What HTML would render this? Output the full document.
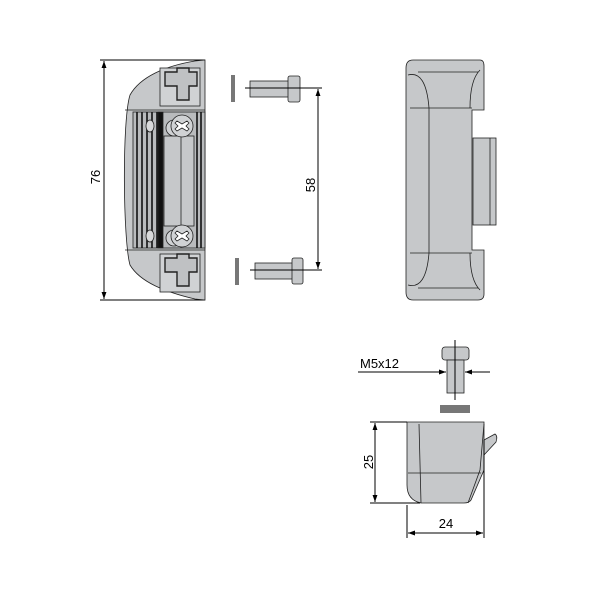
<!DOCTYPE html>
<html><head><style>body{margin:0;background:#fff}svg{display:block}</style></head><body>
<svg width="600" height="600" viewBox="0 0 600 600" xmlns="http://www.w3.org/2000/svg" font-family="Liberation Sans, sans-serif">
<defs>
<marker id="a" viewBox="0 0 10 10" refX="10" refY="5" markerWidth="7" markerHeight="7" orient="auto-start-reverse"><path d="M0,1.5 L10,5 L0,8.5 z" fill="#000"/></marker>
</defs>
<g stroke="#000" stroke-width="1" fill="none">
<line x1="100" y1="60" x2="205" y2="60"/><line x1="100" y1="300" x2="205" y2="300"/>
<line x1="104" y1="61" x2="104" y2="299" marker-start="url(#a)" marker-end="url(#a)"/>
</g>
<text x="100" y="177" font-size="13" transform="rotate(-90 100 177)" text-anchor="middle">76</text>

<g stroke="#222" stroke-width="0.8">
<path d="M205,60 L205,300 L195,299 C165,292 140,282 130,265 C123,240 122,120 130,95 C140,77 165,66 195,61 Z" fill="#c6c8ca"/>
<path d="M125,110 L205,110 M125,250 L205,250" fill="none"/>
<rect x="160" y="68" width="40" height="38" fill="#d0d2d4"/>
<path d="M165,72 h12 v-4 h12 v4 h8 v14 h-8 v14 h-12 v-14 h-12z" fill="#bfc1c3" stroke-width="1.4"/>
<rect x="160" y="254" width="40" height="38" fill="#d0d2d4"/>
<path d="M165,258 h12 v-4 h12 v4 h8 v14 h-8 v14 h-12 v-14 h-12z" fill="#bfc1c3" stroke-width="1.4"/>
<rect x="133" y="112" width="72" height="136" fill="#b9bbbd"/>
<g stroke="#111" stroke-width="1.6">
<line x1="137" y1="112" x2="137" y2="248"/><line x1="142" y1="112" x2="142" y2="248"/>
<line x1="147" y1="112" x2="147" y2="248"/><line x1="152" y1="112" x2="152" y2="248"/>
<line x1="157" y1="112" x2="157" y2="248"/><line x1="162" y1="112" x2="162" y2="248"/>
<line x1="197" y1="112" x2="197" y2="248"/><line x1="201" y1="112" x2="201" y2="248"/>
</g>
<rect x="158" y="112" width="5" height="136" fill="#111"/>
<rect x="164" y="136" width="30" height="90" fill="#c6c8ca"/>
<line x1="181" y1="115" x2="181" y2="248"/>
<ellipse cx="150" cy="126" rx="4" ry="6" fill="#d8d9da"/>
<ellipse cx="150" cy="236" rx="4" ry="6" fill="#d8d9da"/>
<circle cx="174" cy="128" r="8" fill="#d0d2d4"/>
<circle cx="182" cy="126" r="11" fill="#d0d2d4"/>
<path d="M177,121 l5,3 5,-3 2,2 -3,3 3,3 -2,2 -5,-3 -5,3 -2,-2 3,-3 -3,-3z" fill="#fff"/>
<circle cx="174" cy="238" r="8" fill="#d0d2d4"/><circle cx="182" cy="236" r="11" fill="#d0d2d4"/>
<path d="M177,231 l5,3 5,-3 2,2 -3,3 3,3 -2,2 -5,-3 -5,3 -2,-2 3,-3 -3,-3z" fill="#fff"/>
</g>

<g stroke="#222" stroke-width="0.8" fill="#c6c8ca">
<rect x="231" y="75" width="4" height="27" fill="#777" stroke="none"/>
<rect x="250" y="81" width="39" height="16"/><rect x="288" y="76" width="12" height="26" rx="2"/>
<rect x="235" y="258" width="4" height="27" fill="#777" stroke="none"/>
<rect x="255" y="263" width="38" height="16"/><rect x="292" y="258" width="11" height="26" rx="2"/>
</g>
<g stroke="#000" stroke-width="1" fill="none">
<line x1="245" y1="88" x2="322" y2="88"/><line x1="250" y1="270" x2="322" y2="270"/>
<line x1="318" y1="89" x2="318" y2="269" marker-start="url(#a)" marker-end="url(#a)"/>
</g>
<text x="315" y="185" font-size="13" transform="rotate(-90 315 185)" text-anchor="middle">58</text>

<g stroke="#222" stroke-width="0.8">
<rect x="473" y="138" width="23" height="87" fill="#c6c8ca"/>
<line x1="490" y1="138" x2="490" y2="225"/>
<path d="M413,60 L480,60 Q484,60 484,66 L484,110 L472,110 L472,250 L484,250 L484,294 Q484,300 478,300 L413,300 Q406,300 406,292 L406,68 Q406,60 413,60Z" fill="#c6c8ca"/>
<path d="M408,75 Q426,70 429,108 L429,253 Q426,290 408,285 M410,108 L472,108 M410,253 L472,253 M418,72 L478,72 M418,288 L478,288 M470,108 Q470,80 480,70 M470,253 Q470,280 480,290" fill="none"/>
</g>

<g stroke="#222" stroke-width="0.8" fill="#c6c8ca">
<rect x="442" y="347" width="27" height="13" rx="3"/>
<rect x="447" y="360" width="17" height="33"/>
<rect x="440" y="405" width="30" height="8" fill="#777" stroke="none"/>
</g>
<g stroke="#000" stroke-width="1" fill="none">
<line x1="455" y1="340" x2="455" y2="400"/>
<line x1="358" y1="372" x2="446" y2="372" marker-end="url(#a)"/>
<line x1="490" y1="372" x2="465" y2="372" marker-end="url(#a)"/>
</g>
<text x="360" y="368" font-size="13">M5x12</text>

<g stroke="#222" stroke-width="0.8">
<path d="M484,440 L495,434 Q498,436 496,442 L484,455Z" fill="#c6c8ca"/>
<path d="M407,422 L484,422 L484,470 L471,500 Q469,503 464,503 L421,503 Q407,500 407,485Z" fill="#c6c8ca"/>
<path d="M408,473 L481,473 M419,424 L421,503 M484,424 L480,470 L468,503" fill="none"/>
</g>
<g stroke="#000" stroke-width="1" fill="none">
<line x1="370" y1="422" x2="407" y2="422"/><line x1="370" y1="503" x2="420" y2="503"/>
<line x1="375" y1="423" x2="375" y2="502" marker-start="url(#a)" marker-end="url(#a)"/>
<line x1="407" y1="505" x2="407" y2="538"/><line x1="484" y1="440" x2="484" y2="538"/>
<line x1="408" y1="533" x2="483" y2="533" marker-start="url(#a)" marker-end="url(#a)"/>
</g>
<text x="373" y="462" font-size="13" transform="rotate(-90 373 462)" text-anchor="middle">25</text>
<text x="446" y="528" font-size="13" text-anchor="middle">24</text>
</svg>
</body></html>
